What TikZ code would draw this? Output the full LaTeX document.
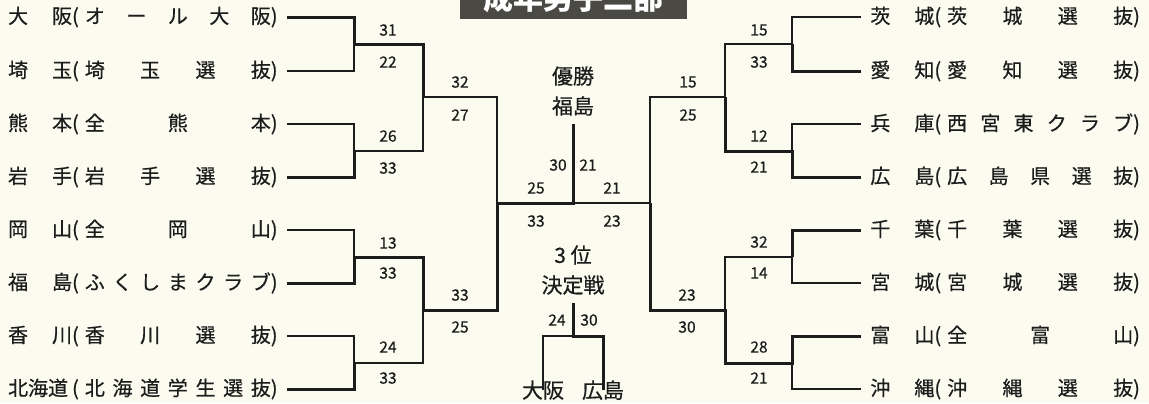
\documentclass[tikz,border=0pt]{standalone}
\usepackage{fontspec}
\setmainfont{Noto Sans CJK JP}
\newfontfamily\jpfont{Noto Sans CJK JP}[FakeBold=0.5]
\usetikzlibrary{calc,positioning}
\definecolor{paper}{HTML}{FBFBF0}
\definecolor{ink}{HTML}{1C1C1C}
\definecolor{banner}{HTML}{4A4944}
\tikzset{
  lose/.style={draw=ink, line width=0.6pt},
  win/.style={draw=ink, line width=1.5pt},
  team/.style={text=ink, inner xsep=4.5pt, inner ysep=0pt, font=\jpfont\fontsize{10}{12}\selectfont},
  score/.style={text=ink, inner sep=0pt, font=\jpfont\fontsize{7.8}{8}\selectfont},
  midlbl/.style={text=ink, inner sep=0pt, align=center, font=\jpfont\fontsize{10.5}{15}\selectfont},
  banner/.style={fill=banner, text=white, minimum width=113.5pt, minimum height=18pt, font=\fontsize{15}{16}\selectfont\bfseries}
}
\newcommand{\tm}[2]{\makebox[32pt][s]{#1}(\hspace{3pt}\makebox[93pt][s]{#2})}

\begin{document}
\begin{tikzpicture}[x=0.5pt, y=-0.5pt]
  \useasboundingbox (0,0) rectangle (1149,403);
  \fill[paper] (0,0) rectangle (1149,403);
  \clip (0,0) rectangle (1149,403);

  \node[banner] (ttl) at (573,-2) {成年男子二部};

  % left half
  \node[team, anchor=east] (l1) at (287,17)  {\tm{大 阪}{オ ー ル 大 阪}};
  \node[team, anchor=east] (l2) at (287,71)  {\tm{埼 玉}{埼 玉 選 抜}};
  \node[team, anchor=east] (l3) at (287,124) {\tm{熊 本}{全 熊 本}};
  \node[team, anchor=east] (l4) at (287,177) {\tm{岩 手}{岩 手 選 抜}};
  \node[team, anchor=east] (l5) at (287,230) {\tm{岡 山}{全 岡 山}};
  \node[team, anchor=east] (l6) at (287,283) {\tm{福 島}{ふ く し ま ク ラ ブ}};
  \node[team, anchor=east] (l7) at (287,336) {\tm{香 川}{香 川 選 抜}};
  \node[team, anchor=east] (l8) at (287,389) {\tm{北海道}{北 海 道 学 生 選 抜}};

  % right half
  \node[team, anchor=west] (r1) at (861,17)  {\tm{茨 城}{茨 城 選 抜}};
  \node[team, anchor=west] (r2) at (861,71)  {\tm{愛 知}{愛 知 選 抜}};
  \node[team, anchor=west] (r3) at (861,124) {\tm{兵 庫}{西 宮 東 ク ラ ブ}};
  \node[team, anchor=west] (r4) at (861,177) {\tm{広 島}{広 島 県 選 抜}};
  \node[team, anchor=west] (r5) at (861,230) {\tm{千 葉}{千 葉 選 抜}};
  \node[team, anchor=west] (r6) at (861,283) {\tm{宮 城}{宮 城 選 抜}};
  \node[team, anchor=west] (r7) at (861,336) {\tm{富 山}{全 富 山}};
  \node[team, anchor=west] (r8) at (861,389) {\tm{沖 縄}{沖 縄 選 抜}};

  % joints
  \coordinate (a1) at (354,44);  \coordinate (a2) at (354,151);
  \coordinate (a3) at (354,257); \coordinate (a4) at (354,363);
  \coordinate (b1) at (423,97);  \coordinate (b2) at (423,310);
  \coordinate (c1) at (497,203); \coordinate (f)  at (573,203);
  \coordinate (c2) at (650,203);
  \coordinate (b3) at (725,97);  \coordinate (b4) at (725,310);
  \coordinate (a5) at (792,44);  \coordinate (a6) at (792,151);
  \coordinate (a7) at (792,257); \coordinate (a8) at (792,363);
  \coordinate (t)  at (573,336);

  \node[midlbl] (champ) at (573,91)  {優勝\\福島};
  \node[midlbl] (third) at (573,270) {3 位\\決定戦};
  \node[midlbl, anchor=north] (osk) at (543,380) {大阪};
  \node[midlbl, anchor=north] (hrs) at (603,380) {広島};

  % losers
  \draw[lose] (l2.east) -| (a1);
  \draw[lose] (l3.east) -| (a2);
  \draw[lose] (l5.east) -| (a3);
  \draw[lose] (l7.east) -| (a4);
  \draw[lose] (a2) -| (b1);
  \draw[lose] (a4) -| (b2);
  \draw[lose] (b1) -| (c1);
  \draw[lose] (r1.west) -| (a5);
  \draw[lose] (r3.west) -| (a6);
  \draw[lose] (r6.west) -| (a7);
  \draw[lose] (r8.west) -| (a8);
  \draw[lose] (a5) -| (b3);
  \draw[lose] (a7) -| (b4);
  \draw[lose] (b3) -| (c2);
  \draw[lose] (c2) -- (f);
  \draw[lose] ([yshift=-5pt]osk.north) |- (t);

  % winners
  \draw[win] (l1.east) -| (a1) -| (b1);
  \draw[win] (l4.east) -| (a2);
  \draw[win] (l8.east) -| (a4);
  \draw[win] (l6.east) -| (a3) -| (b2) -| (c1) -- (f) -- ([yshift=-4pt]champ.south);
  \draw[win] (r2.west) -| (a5);
  \draw[win] (r4.west) -| (a6) -| (b3);
  \draw[win] (r5.west) -| (a7);
  \draw[win] (r7.west) -| (a8) -| (b4) -| (c2);
  \draw[win] ([yshift=-5pt]hrs.north) |- (t) -- ([yshift=-4pt]third.south);

  % scores
  \node[score] (s1)  at ($(a1)+(34,-14)$) {31};
  \node[score] (s2)  at ($(a1)+(34,18)$)  {22};
  \node[score] (s3)  at ($(a2)+(34,-15)$) {26};
  \node[score] (s4)  at ($(a2)+(34,17)$)  {33};
  \node[score] (s5)  at ($(a3)+(34,-14)$) {13};
  \node[score] (s6)  at ($(a3)+(34,16)$)  {33};
  \node[score] (s7)  at ($(a4)+(34,-16)$) {24};
  \node[score] (s8)  at ($(a4)+(34,15)$)  {33};
  \node[score] (s9)  at ($(b1)+(37,-15)$) {32};
  \node[score] (s10) at ($(b1)+(37,18)$)  {27};
  \node[score] (s11) at ($(b2)+(37,-15)$) {33};
  \node[score] (s12) at ($(b2)+(37,17)$)  {25};
  \node[score] (s13) at ($(c1)+(39,-15)$) {25};
  \node[score] (s14) at ($(c1)+(39,18)$)  {33};
  \node[score] (s15) at ($(f)+(-15,-38)$) {30};
  \node[score] (s16) at ($(f)+(15,-38)$)  {21};
  \node[score] (s17) at ($(c2)+(-38,-15)$) {21};
  \node[score] (s18) at ($(c2)+(-38,18)$)  {23};
  \node[score] (s19) at ($(b3)+(-37,-15)$) {15};
  \node[score] (s20) at ($(b3)+(-37,18)$)  {25};
  \node[score] (s21) at ($(b4)+(-38,-15)$) {23};
  \node[score] (s22) at ($(b4)+(-38,17)$)  {30};
  \node[score] (s23) at ($(a5)+(-33,-14)$) {15};
  \node[score] (s24) at ($(a5)+(-33,18)$)  {33};
  \node[score] (s25) at ($(a6)+(-33,-15)$) {12};
  \node[score] (s26) at ($(a6)+(-33,16)$)  {21};
  \node[score] (s27) at ($(a7)+(-33,-15)$) {32};
  \node[score] (s28) at ($(a7)+(-33,16)$)  {14};
  \node[score] (s29) at ($(a8)+(-33,-16)$) {28};
  \node[score] (s30) at ($(a8)+(-33,15)$)  {21};
  \node[score] (s31) at ($(t)+(-16,-16)$) {24};
  \node[score] (s32) at ($(t)+(16,-16)$)  {30};
\end{tikzpicture}
\end{document}
